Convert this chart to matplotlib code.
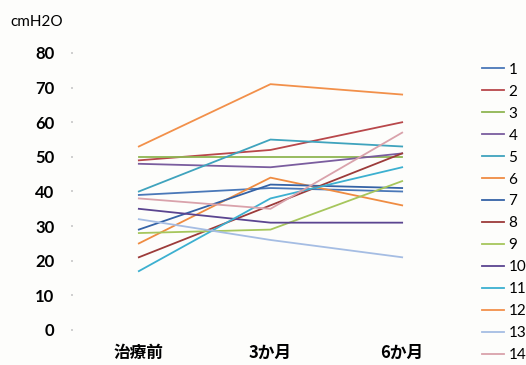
import matplotlib.pyplot as plt

# Categories and series values
categories = ['治療前', '3か月', '6か月']
series_names = [str(i) for i in range(1, 15)]
s1 = [39, 41, 40]
s2 = [49, 52, 60]
s3 = [50, 50, 50]
s4 = [48, 47, 51]
s5 = [40, 55, 53]
s6 = [25, 44, 36]
s7 = [29, 42, 41]
s8 = [21, 36, 51]
s9 = [28, 29, 43]
s10 = [35, 31, 31]
s11 = [17, 38, 47]
s12 = [53, 71, 68]
s13 = [32, 26, 21]
s14 = [38, 35, 57]
yticks = [0, 10, 20, 30, 40, 50, 60, 70, 80]

colors = ['#4a78b8', '#b8474a', '#8fb552', '#7a5d9e', '#3fa3bd', '#ef8c42',
          '#3563a6', '#9c3b3a', '#a6c65c', '#5b4590', '#3cb0d0', '#f2904a',
          '#a5bde3', '#d9a2ab']

all_series = [s1, s2, s3, s4, s5, s6, s7, s8, s9, s10, s11, s12, s13, s14]

fig = plt.figure(figsize=(5.26, 3.65), dpi=100)
fig.patch.set_facecolor('#fdfdfb')
ax = fig.add_axes([0.1388, 0.0959, 0.7509, 0.7589])
ax.set_facecolor('#fdfdfb')

x = list(range(len(categories)))
for name, vals, c in zip(series_names, all_series, colors):
    ax.plot(x, vals, color=c, linewidth=1.3, label=name)

ax.set_xlim(-0.5, 2.5)
ax.set_ylim(0, 80)
ax.set_yticks(yticks)
ax.set_yticklabels([str(v) for v in yticks], fontfamily='Lato', fontweight='bold', fontsize=12)
ax.set_xticks(x)
ax.set_xticklabels(categories, fontfamily=['Noto Sans CJK JP', 'DejaVu Sans'],
                   fontweight='bold', fontsize=12)
for s in ax.spines.values():
    s.set_visible(False)
ax.tick_params(axis='y', length=1.5, width=1.2, color='#c8c8c8', pad=12)
ax.tick_params(axis='x', length=0, pad=10)

fig.text(0.019, 0.94, 'cmH2O', fontfamily='Lato', fontsize=11, va='center')

ax.legend(loc='upper left', bbox_to_anchor=(0.917, 0.828), bbox_transform=fig.transFigure,
          frameon=False, borderpad=0, borderaxespad=0, handlelength=1.45,
          handletextpad=0.25, labelspacing=0.52,
          prop={'family': 'Lato', 'size': 11})

fig.savefig('out.png', dpi=100, facecolor=fig.get_facecolor())
